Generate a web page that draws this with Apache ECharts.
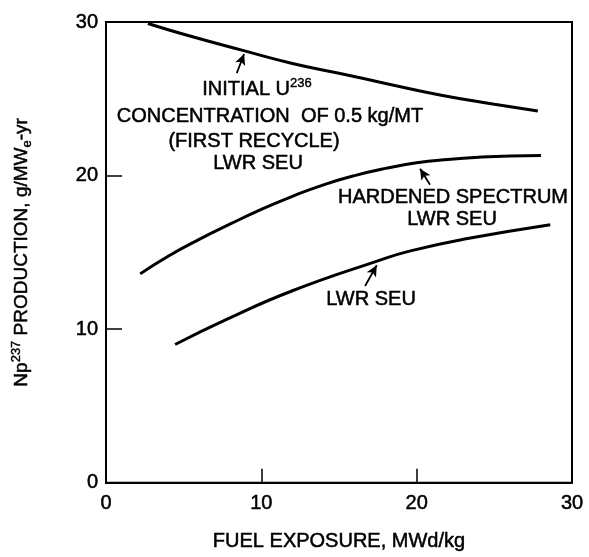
<!DOCTYPE html>
<html><head><meta charset="utf-8">
<script src="https://cdn.jsdelivr.net/npm/echarts@6/dist/echarts.min.js"></script>
<style>html,body{margin:0;padding:0;background:#fff}#c{width:589px;height:557px}</style>
</head><body><div id="c"></div>
<script>
// ---- data ----
const xTickValues = [0, 10, 20, 30];
const yTickValues = [0, 10, 20, 30];
const initialU236X = [2.7, 5, 8.8, 12, 15.3, 18, 21.5, 25, 27.8];
const initialU236Y = [29.9, 29.2, 28.15, 27.3, 26.6, 26.0, 25.25, 24.65, 24.2];
const hardenedX = [2.2, 4, 6, 8, 10, 12, 14, 16, 18, 20, 22, 24, 26, 28];
const hardenedY = [13.6, 14.75, 15.85, 16.85, 17.8, 18.65, 19.4, 20.0, 20.47, 20.83, 21.05, 21.2, 21.28, 21.3];
const lwrX = [4.45, 7.8, 12, 17.5, 19.6, 23, 28.6];
const lwrY = [9.0, 10.65, 12.5, 14.45, 15.1, 15.85, 16.8];
// annotation arrows: [tailX, tailY, headX, headY]
const arrowInitial = [8.42, 26.67, 8.89, 27.92];
const arrowHardened = [20.86, 19.4, 20.22, 20.45];
const arrowLwr = [16.68, 12.81, 17.43, 14.16];

const zip = (xs, ys) => xs.map((x, i) => [x, ys[i]]);
const FONT = 'Liberation Sans, Arial, sans-serif';
const arrowLine = a => ({
  silent: true, symbol: ['none', 'arrow'], symbolSize: [8, 11],
  lineStyle: { color: '#000', width: 1.8, type: 'solid' },
  label: { show: false },
  data: [[{ coord: [a[0], a[1]] }, { coord: [a[2], a[3]] }]]
});
const lineSeries = (data, arrow) => ({
  type: 'line', data, smooth: true, showSymbol: false, symbol: 'none',
  lineStyle: { color: '#000', width: 3 }, markLine: arrowLine(arrow), z: 3
});
const txt = (x, y, text) => ({
  type: 'text', x, y,
  style: {
    text, x: 0, y: 0, align: 'center', verticalAlign: 'middle',
    font: '20px ' + FONT, fill: '#000', lineHeight: 24,
    stroke: '#000', lineWidth: 0.5,
    rich: { sup: { fontSize: 13, fontFamily: FONT, verticalAlign: 'top', lineHeight: 13, fill: '#000', stroke: '#000', lineWidth: 0.4 } }
  }
});

const chart = echarts.init(document.getElementById('c'), null, { renderer: 'canvas' });
chart.setOption({
  animation: false,
  backgroundColor: '#fff',
  grid: { left: 106, right: 17, top: 22, bottom: 73, show: true, borderColor: '#000', borderWidth: 2 },
  xAxis: {
    type: 'value', min: xTickValues[0], max: xTickValues[xTickValues.length - 1], interval: 10,
    name: 'FUEL EXPOSURE, MWd/kg', nameLocation: 'middle', nameGap: 49,
    nameTextStyle: { fontFamily: FONT, fontSize: 20, color: '#000', textBorderColor: '#000', textBorderWidth: 0.5 },
    axisLine: { lineStyle: { color: '#000', width: 2 } },
    axisTick: { inside: true, length: 14, lineStyle: { color: '#000', width: 1.5 } },
    axisLabel: { fontFamily: FONT, fontSize: 20, color: '#000', margin: 11, textBorderColor: '#000', textBorderWidth: 0.5 },
    splitLine: { show: false }
  },
  yAxis: {
    type: 'value', min: yTickValues[0], max: yTickValues[yTickValues.length - 1], interval: 10,
    name: 'Np{sup|237} PRODUCTION, g/MW{sub|e}-yr', nameLocation: 'middle', nameGap: 72,
    nameTextStyle: {
      fontFamily: FONT, fontSize: 19, color: '#000', lineHeight: 24, textBorderColor: '#000', textBorderWidth: 0.5,
      rich: {
        sup: { fontSize: 13, fontFamily: FONT, verticalAlign: 'top', lineHeight: 13, color: '#000', textBorderColor: '#000', textBorderWidth: 0.4 },
        sub: { fontSize: 13, fontFamily: FONT, verticalAlign: 'bottom', lineHeight: 13, color: '#000', textBorderColor: '#000', textBorderWidth: 0.4 }
      }
    },
    axisLine: { lineStyle: { color: '#000', width: 2 } },
    axisTick: { inside: true, length: 16, lineStyle: { color: '#000', width: 1.5 } },
    axisLabel: { fontFamily: FONT, fontSize: 20, color: '#000', margin: 8, textBorderColor: '#000', textBorderWidth: 0.5 },
    splitLine: { show: false }
  },
  series: [
    lineSeries(zip(initialU236X, initialU236Y), arrowInitial),
    lineSeries(zip(hardenedX, hardenedY), arrowHardened),
    lineSeries(zip(lwrX, lwrY), arrowLwr)
  ],
  graphic: [
    txt(257, 89, 'INITIAL U{sup|236}'),
    txt(270, 116, 'CONCENTRATION  OF 0.5 kg/MT'),
    txt(254, 141, '(FIRST RECYCLE)'),
    txt(258, 163, 'LWR SEU'),
    txt(453, 197, 'HARDENED SPECTRUM'),
    txt(452, 219, 'LWR SEU'),
    txt(371, 299, 'LWR SEU')
  ]
});
</script></body></html>
